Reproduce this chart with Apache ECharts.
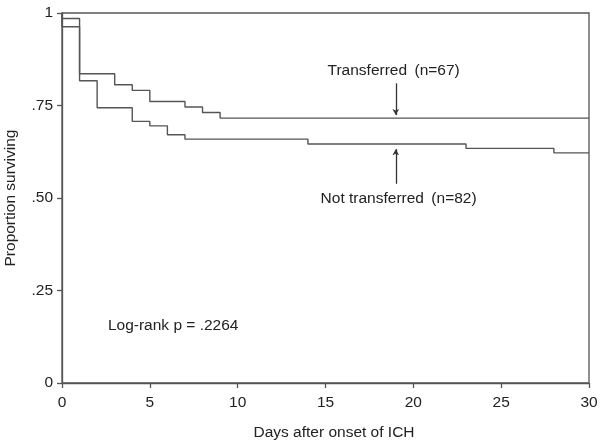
<!DOCTYPE html>
<html>
<head>
<meta charset="utf-8">
<script src="https://cdn.jsdelivr.net/npm/echarts@6/dist/echarts.min.js"></script>
<style>
html,body{margin:0;padding:0;background:#fff;}
#chart{width:600px;height:445px;}
</style>
</head>
<body>
<div id="chart"></div>
<script>
// Kaplan-Meier step data (day, proportion surviving)
const transferredDays = [0, 0, 1, 3, 4, 5, 7, 8, 9, 30];
const transferredSurv = [1, 0.985, 0.836, 0.806, 0.791, 0.761, 0.746, 0.731, 0.716, 0.716];
const notTransferredDays = [0, 0, 1, 2, 4, 5, 6, 7, 14, 23, 28, 30];
const notTransferredSurv = [1, 0.963, 0.817, 0.744, 0.707, 0.695, 0.671, 0.659, 0.646, 0.634, 0.622, 0.622];
const xTicks = [0, 5, 10, 15, 20, 25, 30];
const yTicks = [0, 0.25, 0.5, 0.75, 1];
const yTickLabels = ['0', '.25', '.50', '.75', '1'];
const transferredLabel = 'Transferred \u2009(n=67)';
const notTransferredLabel = 'Not transferred \u2009(n=82)';
const pValueLabel = 'Log-rank p = .2264';

const lineColor = '#555';
const textColor = '#222';
const fs = 15.5;
const font = 'Liberation Sans, Arial, sans-serif';

function pairs(xs, ys) { return xs.map((x, i) => [x, ys[i]]); }

const chart = echarts.init(document.getElementById('chart'), null, {renderer: 'canvas'});
chart.setOption({
  animation: false,
  backgroundColor: '#fff',
  textStyle: {fontFamily: font},
  grid: {left: 62, right: 11, top: 13, bottom: 62, containLabel: false, outerBoundsMode: 'none',
    show: true, borderColor: lineColor, borderWidth: 1.3, backgroundColor: 'transparent'},
  xAxis: {
    type: 'value', min: 0, max: 30, interval: 5,
    name: 'Days after onset of ICH', nameLocation: 'middle', nameGap: 42,
    nameTextStyle: {color: textColor, fontSize: fs, fontFamily: font, padding: [0, 0, 0, 17]},
    axisLine: {show: true, lineStyle: {color: lineColor, width: 1.3}},
    axisTick: {show: true, length: 5, lineStyle: {color: lineColor, width: 1.3}},
    axisLabel: {color: textColor, fontSize: fs, fontFamily: font, margin: 12,
      formatter: v => xTicks.includes(v) ? String(v) : ''},
    splitLine: {show: false}
  },
  yAxis: {
    type: 'value', min: 0, max: 1, interval: 0.25,
    name: 'Proportion surviving', nameLocation: 'middle', nameGap: 43,
    nameTextStyle: {color: textColor, fontSize: fs, fontFamily: font},
    axisLine: {show: true, lineStyle: {color: lineColor, width: 1.3}},
    axisTick: {show: true, length: 5, lineStyle: {color: lineColor, width: 1.3}},
    axisLabel: {color: textColor, fontSize: fs, fontFamily: font, margin: 9,
      formatter: v => { const i = yTicks.findIndex(t => Math.abs(t - v) < 1e-9); return i >= 0 ? yTickLabels[i] : ''; }},
    splitLine: {show: false}
  },
  series: [
    {
      name: 'Transferred', type: 'line', step: 'end', showSymbol: false, symbol: 'none',
      data: pairs(transferredDays, transferredSurv),
      lineStyle: {color: lineColor, width: 1.4}, itemStyle: {color: lineColor},
      markLine: {
        silent: true, animation: false,
        label: {show: false},
        lineStyle: {color: '#333', width: 1.3, type: 'solid'},
        symbol: ['none', 'arrow'], symbolSize: [5, 6],
        data: [[{coord: [19, 0.81]}, {coord: [19, 0.724]}]]
      },
      markPoint: {
        silent: true, animation: false, symbol: 'circle', symbolSize: 0,
        label: {show: true, position: 'inside', color: textColor, fontSize: fs, fontFamily: font, formatter: p => p.name},
        data: [{name: transferredLabel, coord: [18.88, 0.844]}]
      }
    },
    {
      name: 'Not transferred', type: 'line', step: 'end', showSymbol: false, symbol: 'none',
      data: pairs(notTransferredDays, notTransferredSurv),
      lineStyle: {color: lineColor, width: 1.4}, itemStyle: {color: lineColor},
      markLine: {
        silent: true, animation: false,
        label: {show: false},
        lineStyle: {color: '#333', width: 1.3, type: 'solid'},
        symbol: ['none', 'arrow'], symbolSize: [5, 6],
        data: [[{coord: [19, 0.5385]}, {coord: [19, 0.632]}]]
      },
      markPoint: {
        silent: true, animation: false, symbol: 'circle', symbolSize: 0,
        label: {show: true, position: 'inside', color: textColor, fontSize: fs, fontFamily: font, formatter: p => p.name},
        data: [
          {name: notTransferredLabel, coord: [19.16, 0.497]},
          {name: pValueLabel, coord: [6.33, 0.156]}
        ]
      }
    }
  ]
});
</script>
</body>
</html>
